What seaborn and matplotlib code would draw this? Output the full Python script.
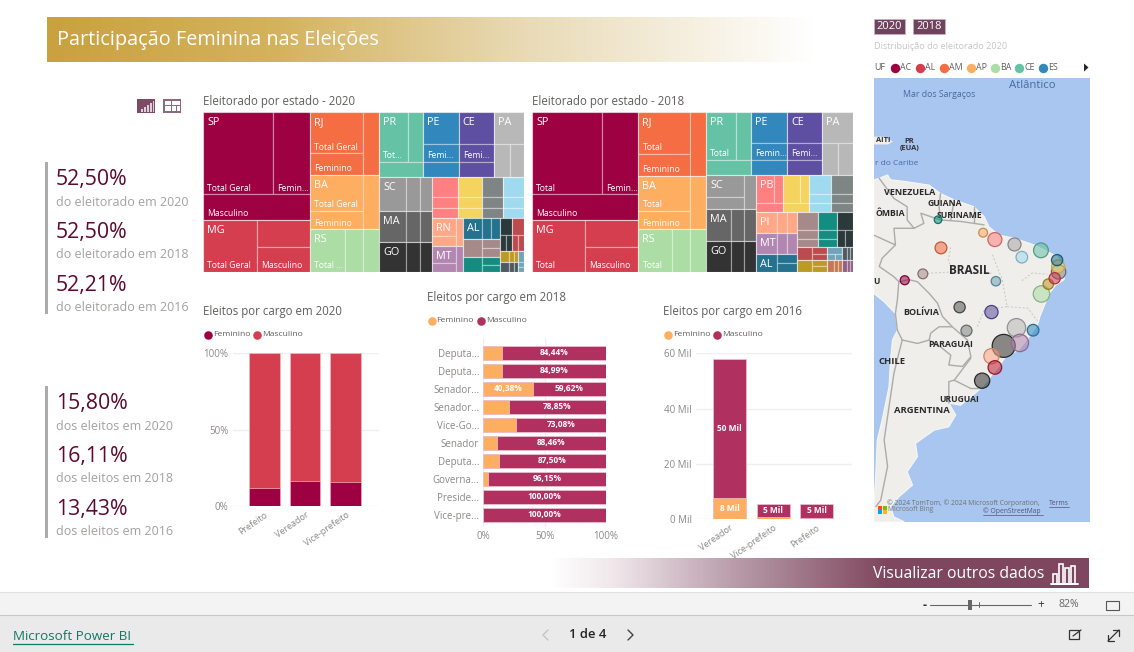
import numpy as np
import seaborn as sns
import matplotlib
matplotlib.use("Agg")
import matplotlib.pyplot as plt
from matplotlib.colors import LinearSegmentedColormap
from matplotlib.patches import Rectangle, Polygon

ufs_2020 = ["SP", "MG", "RJ", "BA", "RS", "PR", "PE", "CE", "PA", "SC", "MA", "GO", "PB", "ES", "AM", "PI", "RN", "MT", "AL", "MS", "SE", "RO", "TO", "AC", "RR", "AP"]
total_2020 = [34.0, 16.46, 12.72, 11.09, 8.64, 8.36, 6.83, 6.64, 5.80, 5.31, 4.93, 4.62, 3.07, 2.91, 2.55, 2.51, 2.50, 2.38, 2.27, 1.94, 1.64, 1.19, 1.13, 0.58, 0.54, 0.35]
fem_2020 = [17.85, 8.64, 6.68, 5.82, 4.54, 4.39, 3.59, 3.49, 3.05, 2.79, 2.59, 2.43, 1.61, 1.53, 1.34, 1.32, 1.31, 1.25, 1.19, 1.02, 0.86, 0.62, 0.59, 0.30, 0.28, 0.18]
masc_2020 = [16.15, 7.82, 6.04, 5.27, 4.10, 3.97, 3.24, 3.15, 2.75, 2.52, 2.34, 2.19, 1.46, 1.38, 1.21, 1.19, 1.19, 1.13, 1.08, 0.92, 0.78, 0.57, 0.54, 0.28, 0.26, 0.17]

ufs_2018 = ["SP", "MG", "RJ", "BA", "RS", "PR", "PE", "CE", "PA", "SC", "MA", "GO", "PB", "ES", "AM", "DF", "PI", "MT", "AL", "RN", "MS", "SE", "RO", "TO", "AC", "AP", "RR", "ZZ"]
total_2018 = [33.56, 16.16, 12.60, 10.61, 8.42, 8.19, 6.60, 6.47, 5.63, 5.04, 4.66, 4.51, 2.93, 2.82, 2.45, 2.41, 2.48, 2.43, 2.19, 2.09, 1.95, 1.61, 1.17, 1.03, 0.59, 0.51, 0.43, 0.38]
fem_2018 = [17.62, 8.48, 6.62, 5.57, 4.42, 4.30, 3.47, 3.40, 2.96, 2.65, 2.45, 2.37, 1.54, 1.48, 1.29, 1.27, 1.30, 1.28, 1.15, 1.10, 1.02, 0.85, 0.61, 0.54, 0.31, 0.27, 0.23, 0.20]
masc_2018 = [15.94, 7.68, 5.98, 5.04, 4.00, 3.89, 3.13, 3.07, 2.67, 2.39, 2.21, 2.14, 1.39, 1.34, 1.16, 1.14, 1.18, 1.15, 1.04, 0.99, 0.93, 0.76, 0.56, 0.49, 0.28, 0.24, 0.20, 0.18]

nomes_2020 = ["SP", "MG", "RJ", "BA", "RS", "PR", "PE", "CE", "PA", "SC", "MA", "GO", "RN", "MT", "AL"]
nomes_2018 = ["SP", "MG", "RJ", "BA", "RS", "PR", "PE", "CE", "PA", "SC", "MA", "GO", "PB", "PI", "MT", "AL"]
rotulos_2020 = {"SP": ("Total Geral", "Femin...", "Masculino"), "MG": ("Total Geral", None, "Masculino"),
                "RJ": ("Total Geral", "Feminino", None), "BA": ("Total Geral", "Feminino", None),
                "RS": ("Total ...", None, None), "PR": ("Tot...", None, None),
                "PE": (None, "Femi...", None), "CE": (None, "Femi...", None)}
rotulos_2018 = {"SP": ("Total", "Femin...", "Masculino"), "MG": ("Total", None, "Masculino"),
                "RJ": ("Total", "Feminino", None), "BA": ("Total", "Feminino", None),
                "RS": ("Total", None, None), "PR": ("Total", None, None),
                "PE": (None, "Femin...", None), "CE": (None, "Femi...", None)}

# eleitos por cargo
cargos_2020 = ["Prefeito", "Vereador", "Vice-prefeito"]
fem_cargo_2020 = [12.1, 16.5, 16.05]
masc_cargo_2020 = [87.9, 83.5, 83.95]

cargos_2018 = ["Deputado Distrital", "Deputado Federal", "Senador 1", "Senador 2", "Vice-Governador", "Senador", "Deputado Estadual", "Governador", "Presidente", "Vice-presidente"]
ticks_2018 = ["Deputa...", "Deputa...", "Senador...", "Senador...", "Vice-Go...", "Senador", "Deputa...", "Governa...", "Preside...", "Vice-pre..."]
fem_cargo_2018 = [15.56, 15.01, 40.38, 21.15, 26.92, 11.54, 12.50, 3.85, 0.0, 0.0]
masc_cargo_2018 = [84.44, 84.99, 59.62, 78.85, 73.08, 88.46, 87.50, 96.15, 100.0, 100.0]

cargos_2016 = ["Vereador", "Vice-prefeito", "Prefeito"]
fem_cargo_2016 = [7.8, 0.84, 0.63]
masc_cargo_2016 = [50.2, 4.7, 4.87]
rotulo_fem_2016 = ["8 Mil", None, None]
rotulo_masc_2016 = ["50 Mil", "5 Mil", "5 Mil"]

kpi_eleitorado = [("52,50%", "do eleitorado em 2020"), ("52,50%", "do eleitorado em 2018"), ("52,21%", "do eleitorado em 2016")]
kpi_eleitos = [("15,80%", "dos eleitos em 2020"), ("16,11%", "dos eleitos em 2018"), ("13,43%", "dos eleitos em 2016")]

# mapa: bolhas por UF
ufs_mapa = ["MG", "SP", "RJ", "PR", "SC", "RS", "ES", "GO", "MS", "MT", "BA", "SE", "PE", "PB", "AL", "RN", "CE", "PI", "MA", "PA", "AP", "RR", "AM", "RO", "AC", "TO"]
lon_mapa = [-44.3, -46.9, -43.6, -49.4, -48.7, -51.3, -40.9, -49.4, -54.5, -55.9, -39.2, -37.8, -35.7, -35.8, -36.5, -36.0, -39.3, -43.2, -44.7, -48.7, -51.1, -60.3, -59.7, -63.4, -67.1, -48.5]
lat_mapa = [-19.4, -23.1, -22.5, -25.2, -27.5, -30.2, -19.9, -16.2, -20.0, -15.2, -12.5, -10.5, -8.0, -6.9, -9.3, -5.6, -3.6, -5.0, -2.4, -1.4, 0.0, 2.65, -3.1, -8.4, -9.7, -9.9]
raio_mapa = [9.2, 11.5, 8.7, 7.6, 6.8, 7.6, 5.8, 6.6, 5.5, 5.6, 8.2, 5.2, 7.2, 6.5, 5.6, 5.6, 7.4, 5.8, 6.5, 7.0, 4.4, 3.8, 5.9, 4.9, 4.5, 4.7]

legenda_mapa = ["AC", "AL", "AM", "AP", "BA", "CE", "ES"]

costa_lon = [-73.4, -72.3, -70.6, -70.0, -66.6, -62.1, -59.8, -57.0, -53.0, -50.9, -49.9, -47.9, -44.8, -40.7, -37.3, -36.0, -34.3, -34.6, -36.3, -37.6, -38.7, -39.5, -40.0, -41.7, -43.8, -46.5, -47.9, -49.6, -51.6, -53.6, -55.7, -58.1, -56.7, -58.1, -61.1, -64.9, -64.5, -66.6, -65.5, -68.3, -70.0, -69.3, -67.2, -73.4, -73.4, -73.0, -72.7, -71.7, -70.3, -70.0, -69.6, -68.6, -69.0, -71.3, -73.4]
costa_lat = [10.8, 11.1, 11.8, 10.8, 10.4, 9.7, 8.0, 6.7, 5.3, 3.3, 1.2, -0.5, -1.1, -2.5, -4.2, -4.9, -7.6, -9.6, -10.7, -12.4, -15.1, -17.1, -18.8, -21.2, -23.9, -25.3, -27.3, -29.4, -31.8, -33.5, -35.2, -34.8, -37.2, -39.6, -40.3, -43.0, -45.7, -48.8, -51.5, -53.9, -55.9, -58.0, -59.0, -59.0, -55.9, -49.1, -42.3, -38.2, -31.4, -26.0, -21.9, -19.9, -16.5, -14.1, -12.4]
ilha_lon = [-73.4, -71.5, -69.5, -70.5, -73.4]
ilha_lat = [19.6, 19.6, 18.6, 18.0, 18.0]
fronteiras = [
    ([-72.3, -69.3, -66.6, -66.6, -65.2], [11.1, 7.0, 5.3, 2.6, 0.9]),
    ([-65.2, -63.2, -63.8, -59.8, -60.1, -59.8], [0.9, 1.9, 3.96, 2.6, 5.3, 8.0]),
    ([-59.8, -55.7, -50.9], [2.6, 2.3, 1.6]),
    ([-57.0, -57.7], [6.7, 2.6]),
    ([-53.0, -53.0], [5.3, 2.0]),
    ([-65.2, -69.3, -69.0, -73.4], [0.9, 0.9, -2.5, -0.5]),
    ([-69.0, -71.7, -72.3, -69.3, -68.3], [-2.5, -5.2, -6.9, -9.0, -10.0]),
    ([-68.3, -68.6, -69.0], [-10.0, -13.7, -16.5]),
    ([-68.3, -66.2, -64.5, -62.1, -60.4, -59.4, -57.4, -60.1, -61.8, -62.1], [-10.0, -9.6, -10.0, -12.4, -14.4, -17.1, -19.2, -19.2, -20.5, -21.9]),
    ([-62.1, -59.8, -57.7, -58.1, -55.3, -53.6, -54.3, -57.4], [-21.9, -23.3, -25.0, -27.0, -27.3, -25.3, -21.9, -19.2]),
    ([-53.6, -57.0, -58.1, -58.1, -58.1], [-25.6, -30.1, -30.4, -33.5, -34.8]),
    ([-57.0, -53.6, -51.6], [-30.1, -31.8, -31.8]),
    ([-67.6, -68.3, -69.3, -70.3, -71.3, -70.6, -72.0, -73.0], [-21.9, -24.6, -28.7, -35.5, -42.3, -47.7, -54.6, -55.9]),
    ([-67.6, -64.5, -62.1], [-21.9, -22.6, -21.9]),
    ([-67.6, -68.6, -69.0], [-21.9, -19.9, -16.5]),
]
divisas = [
    ([-62.5, -57.4, -49.2], [-8.3, -8.0, -8.3]),
    ([-49.2, -47.2, -46.2, -50.9, -52.3], [-4.5, -9.6, -15.1, -15.8, -19.2]),
    ([-57.7, -58.2, -57.4], [-3.0, -5.5, -8.0]),
    ([-46.2, -42.0, -40.0], [-15.1, -15.4, -18.0]),
    ([-43.2, -41.0, -38.0], [-9.8, -8.2, -8.5]),
]
nomes_mapa = [
    ("Mar dos Sargaços", -60.1, 28.3, "#4A6A9E", 6.3, "normal"), ("Atlântico", -41.0, 30.1, "#4A6A9E", 8.2, "normal"),
    ("PR\n(EUA)", -66.2, 17.9, "#333333", 5.4, "bold"), ("AITI", -71.5, 18.9, "#333333", 5.4, "bold"),
    ("r do Caribe", -68.7, 14.1, "#4A6A9E", 6, "normal"), ("VENEZUELA", -66.0, 8.3, "#2A2A2A", 6.5, "bold"),
    ("GUIANA", -59.0, 5.9, "#2A2A2A", 6.2, "bold"), ("SURINAME", -56.0, 3.5, "#2A2A2A", 6.2, "bold"),
    ("ÔMBIA", -70.0, 3.9, "#2A2A2A", 6.2, "bold"), ("BRASIL", -54.0, -7.7, "#2A2A2A", 8.5, "bold"),
    ("U", -72.8, -10.0, "#2A2A2A", 6, "bold"), ("BOLÍVIA", -63.7, -16.2, "#2A2A2A", 6.5, "bold"),
    ("PARAGUAI", -57.7, -22.9, "#2A2A2A", 6.4, "bold"), ("CHILE", -69.6, -26.3, "#2A2A2A", 6.8, "bold"),
    ("URUGUAI", -56.0, -34.0, "#2A2A2A", 6.1, "bold"), ("ARGENTINA", -63.5, -36.3, "#2A2A2A", 6.8, "bold"),
]

# arranjo dos blocos: h = lado a lado, v = empilhado
arranjo_2020 = ("h", ("v", "SP", "MG"), ("v", "RJ", "BA", "RS"),
                ("v", ("h", "PR", "PE", "CE", "PA"),
                 ("h", ("v", "SC", "MA", "GO"),
                  ("v", ("h", "PB", "ES", "AM", "PI"),
                   ("h", ("v", "RN", "MT"), ("v", "AL", "MS", "SE"),
                    ("v", ("h", "RO", "TO"), ("h", ("v", "AC", "RR"), "AP")))))))
arranjo_2018 = ("h", ("v", "SP", "MG"), ("v", "RJ", "BA", "RS"),
                ("v", ("h", "PR", "PE", "CE", "PA"),
                 ("h", ("v", "SC", "MA", "GO"),
                  ("v", ("h", "PB", "ES", "AM", "DF"),
                   ("h", ("v", "PI", "MT", "AL"),
                    ("v", ("h", "RN", "MS", "SE"),
                     ("h", ("v", "RO", "TO"), ("v", "AC", "AP"), ("v", "RR", "ZZ"))))))))

TOPO = ("v", ("h", 0, 1), 2)
ESQ = ("h", ("v", 0, 1), 2)
LADO = ("h", 0, ("v", 1, 2))
COLS = ("h", 0, 1, 2)
PILHA = ("v", 0, 1, 2)
BAIXO = ("v", 0, ("h", 1, 2))
filhos_2020 = {"SP": TOPO, "PR": TOPO, "MG": LADO, "MS": LADO, "SE": LADO, "RJ": ESQ, "BA": ESQ, "RN": ESQ, "MT": ESQ,
               "RS": COLS, "SC": COLS, "MA": COLS, "GO": COLS, "AL": COLS, "AC": COLS, "RR": COLS,
               "PA": BAIXO, "RO": BAIXO, "TO": BAIXO}
filhos_2018 = {"SP": TOPO, "PR": TOPO, "PB": TOPO, "ES": TOPO, "MG": LADO, "AL": LADO, "RO": LADO, "TO": LADO,
               "RJ": ESQ, "BA": ESQ, "SC": ESQ, "RS": COLS, "MA": COLS, "GO": COLS, "PI": COLS, "MT": COLS, "AP": COLS,
               "PA": BAIXO, "SE": BAIXO, "AC": BAIXO, "RR": COLS, "ZZ": COLS}

paleta_2020 = ["#9E0142", "#D53E4F", "#F46D43", "#FDAE61", "#ABDDA4", "#66C2A5", "#3288BD", "#5E4FA2", "#B8B8B8", "#999999", "#666666", "#333333",
               "#FF8080", "#F4D35E", "#7F8585", "#A0DAEF", "#FFA786", "#B286B0", "#24728E", "#A68A8A", "#138D80", "#2B393B", "#BC4B4F", "#BC9B25", "#4E5A60", "#6FA4BA"]
paleta_2018 = ["#9E0142", "#D53E4F", "#F46D43", "#FDAE61", "#ABDDA4", "#66C2A5", "#3288BD", "#5E4FA2", "#B8B8B8", "#999999", "#666666", "#333333",
               "#FF8080", "#F4D35E", "#A0DAEF", "#7F8585", "#FFA786", "#B286B0", "#24728E", "#A68A8A", "#138D80", "#2B393B", "#BC4B4F", "#BC9B25", "#6FA4BA", "#C47A50", "#4E5A60", "#8F5F85"]
cores_mapa = {"MG": "#B8B8B8", "SP": "#333333", "RJ": "#B286B0", "PR": "#FFA786", "SC": "#BC1F35", "RS": "#333333", "ES": "#3288BD", "GO": "#5E4FA2",
              "MS": "#7F8585", "MT": "#555555", "BA": "#ABDDA4", "SE": "#BC9B25", "PE": "#7F8585", "PB": "#F4D35E", "AL": "#D53E4F", "RN": "#24728E",
              "CE": "#66C2A5", "PI": "#A0DAEF", "MA": "#A8A8A8", "PA": "#FF8080", "AP": "#FDAE61", "RR": "#138D80", "AM": "#F46D43", "RO": "#A68A8A",
              "AC": "#9E0142", "TO": "#6FA4BA"}

sns.set_theme(style="white")
plt.rcParams["font.family"] = ["Open Sans", "DejaVu Sans"]

W, H = 1134, 652
fig = plt.figure(figsize=(W / 100, H / 100), dpi=100, facecolor="white")


def caixa(x0, y0, x1, y1, zorder=1):
    ax = fig.add_axes([x0 / W, 1 - y1 / H, (x1 - x0) / W, (y1 - y0) / H], zorder=zorder)
    return ax


def peso(no, valores):
    if isinstance(no, tuple):
        return sum(peso(f, valores) for f in no[1:])
    return valores[no]


def fatiar(no, valores, x, y, w, h, saida):
    if not isinstance(no, tuple):
        saida[no] = (x, y, w, h)
        return
    soma = peso(no, valores)
    for f in no[1:]:
        p = peso(f, valores) / soma
        if no[0] == "h":
            fatiar(f, valores, x, y, w * p, h, saida)
            x += w * p
        else:
            fatiar(f, valores, x, y, w, h * p, saida)
            y += h * p


def treemap(ax, ufs, total, fem, masc, arranjo, filhos, paleta, nomes, rotulos):
    tabela = {u: (t, f, m) for u, t, f, m in zip(ufs, total, fem, masc)}
    cores = dict(zip(ufs, paleta))
    pesos = {u: sum(v) for u, v in tabela.items()}
    blocos = {}
    fatiar(arranjo, pesos, 0, 0, 1, 1, blocos)
    ax.set_xlim(0, 1)
    ax.set_ylim(1, 0)
    ax.axis("off")
    largura, altura = ax.get_window_extent().width, ax.get_window_extent().height
    dx, dy = 4 / largura, 1.5 / altura
    for u, (x, y, w, h) in blocos.items():
        partes = {}
        fatiar(filhos.get(u, PILHA), tabela[u], x, y, w, h, partes)
        for i, (px, py, pw, ph) in partes.items():
            ax.add_patch(Rectangle((px, py), pw, ph, facecolor=cores[u], edgecolor=(1, 1, 1, 0.3), linewidth=0.9))
            txt = rotulos.get(u, (None, None, None))[i]
            if txt:
                ax.text(px + dx, py + ph - dy, txt, color="white", fontsize=6.2, va="bottom", ha="left", fontweight="medium")
        ax.add_patch(Rectangle((x, y), w, h, fill=False, edgecolor=(1, 1, 1, 0.35), linewidth=0.7))
        if u in nomes:
            ax.text(x + dx, y + 5 / altura, u, color="white", fontsize=7.8, va="top", ha="left")


ax = caixa(203, 112, 524, 272)
treemap(ax, ufs_2020, total_2020, fem_2020, masc_2020, arranjo_2020, filhos_2020, paleta_2020, nomes_2020, rotulos_2020)
ax = caixa(532, 112, 853, 272)
treemap(ax, ufs_2018, total_2018, fem_2018, masc_2018, arranjo_2018, filhos_2018, paleta_2018, nomes_2018, rotulos_2018)

COR_TICK = "#8A8886"
COR_GRADE = "#EFEFEF"


def limpar(ax, eixo):
    sns.despine(ax=ax, left=True, bottom=True)
    ax.set_xlabel("")
    ax.set_ylabel("")
    ax.set_facecolor("none")
    ax.grid(True, axis=eixo, color=COR_GRADE, linewidth=1)
    ax.set_axisbelow(True)
    ax.tick_params(length=0, labelsize=7, colors=COR_TICK, pad=3)


# eleitos 2020
ax = caixa(232.7, 352.7, 379, 506.3)
soma = np.array(fem_cargo_2020) + np.array(masc_cargo_2020)
sns.barplot(x=cargos_2020, y=soma, color="#D53E4F", saturation=1, width=0.754, ax=ax, edgecolor="#F2B8C0", linewidth=0.5)
sns.barplot(x=cargos_2020, y=fem_cargo_2020, color="#9E0142", saturation=1, width=0.754, ax=ax, edgecolor="#F2B8C0", linewidth=0.5)
ax.set_xlim(-0.78, 2.82)
ax.set_ylim(0, 100)
ax.set_yticks([0, 50, 100], ["0%", "50%", "100%"])
limpar(ax, "y")
plt.setp(ax.get_xticklabels(), rotation=35, ha="right", rotation_mode="anchor", fontsize=6.5)

# eleitos 2018
ax = caixa(483.3, 338, 605.7, 527)
soma = np.array(fem_cargo_2018) + np.array(masc_cargo_2018)
sns.barplot(y=cargos_2018, x=soma, color="#B03060", saturation=1, width=0.78, ax=ax, orient="y", edgecolor="#EBC6D2", linewidth=0.5)
sns.barplot(y=cargos_2018, x=fem_cargo_2018, color="#FDAE61", saturation=1, width=0.78, ax=ax, orient="y", edgecolor="#EBC6D2", linewidth=0.5)
ax.set_ylim(9.67, -0.82)
ax.set_xlim(0, 100)
ax.set_xticks([0, 50, 100], ["0%", "50%", "100%"])
ax.set_yticks(range(len(ticks_2018)), ticks_2018)
limpar(ax, "x")
for i, (f, m) in enumerate(zip(fem_cargo_2018, masc_cargo_2018)):
    ax.text(f + m / 2, i, f"{m:.2f}%".replace(".", ","), color="white", fontsize=6, fontweight="bold", ha="center", va="center")
    if f > 30:
        ax.text(f / 2, i, f"{f:.2f}%".replace(".", ","), color="white", fontsize=6, fontweight="bold", ha="center", va="center")

# eleitos 2016
ax = caixa(696, 353.3, 852, 519.3)
soma = np.array(fem_cargo_2016) + np.array(masc_cargo_2016)
sns.barplot(x=cargos_2016, y=soma, color="#B03060", saturation=1, width=0.76, ax=ax, edgecolor="#EBC6D2", linewidth=0.5)
sns.barplot(x=cargos_2016, y=fem_cargo_2016, color="#FDAE61", saturation=1, width=0.76, ax=ax, edgecolor="#EBC6D2", linewidth=0.5)
ax.set_xlim(-0.78, 2.82)
ax.set_ylim(0, 60)
ax.set_yticks([0, 20, 40, 60], ["0 Mil", "20 Mil", "40 Mil", "60 Mil"])
limpar(ax, "y")
plt.setp(ax.get_xticklabels(), rotation=35, ha="right", rotation_mode="anchor", fontsize=6.5)
for i, (f, m) in enumerate(zip(fem_cargo_2016, masc_cargo_2016)):
    if rotulo_masc_2016[i]:
        ax.text(i, f + m / 2, rotulo_masc_2016[i], color="white", fontsize=6, fontweight="bold", ha="center", va="center")
    if rotulo_fem_2016[i]:
        ax.text(i, f / 2, rotulo_fem_2016[i], color="white", fontsize=6, fontweight="bold", ha="center", va="center")

# mapa
ax = caixa(874, 78, 1090, 522)
ax.set_xlim(-73.37, -29.29)
ax.set_ylim(-59.04, 31.57)
ax.set_facecolor("#A8C6F0")
ax.add_patch(Polygon(np.column_stack([costa_lon, costa_lat]), facecolor="#EFEEEA", edgecolor="#F7F7F5", linewidth=0.8))
ax.add_patch(Polygon(np.column_stack([ilha_lon, ilha_lat]), facecolor="#EFEEEA", edgecolor="none"))
for lons, lats in divisas:
    ax.plot(lons, lats, color="#C6C6C2", linewidth=0.7, linestyle=(0, (2, 2)))
for lons, lats in fronteiras:
    ax.plot(lons, lats, color="#ABABA7", linewidth=1.0)
sns.scatterplot(x=lon_mapa, y=lat_mapa, hue=ufs_mapa, palette=cores_mapa, s=[(2 * r * 0.72) ** 2 for r in raio_mapa], legend=False, ax=ax, zorder=5, linewidth=1)
bolhas = ax.collections[-1]
faces = bolhas.get_facecolors().copy()
bolhas.set_edgecolors(faces * np.array([0.8, 0.8, 0.8, 1]))
faces[:, 3] = 0.55
bolhas.set_facecolors(faces)
bolhas.set_linewidth(0.9)
for nome, lon, lat, cor, tam, peso_fonte in nomes_mapa:
    ax.text(lon, lat, nome, color=cor, fontsize=tam, fontweight=peso_fonte, ha="center", va="center", linespacing=0.95, zorder=4)
ax.set_xticks([])
ax.set_yticks([])
ax.set_xlabel("")
ax.set_ylabel("")
sns.despine(ax=ax, left=True, bottom=True)

# tudo o que e moldura de relatorio: camada em pixels
tela = caixa(0, 0, W, H, zorder=10)
tela.patch.set_alpha(0)
tela.axis("off")


def gradiente(x0, y0, x1, y1, cores):
    cmap = LinearSegmentedColormap.from_list("g", cores)
    tela.imshow(np.linspace(0, 1, 400).reshape(1, -1), cmap=cmap, extent=(x0, x1, y1, y0), aspect="auto", zorder=0)


gradiente(47, 17, 815, 62, [(0, "#C9A13F"), (0.3, "#D4B35E"), (0.62, "#E9DAB5"), (1, "#FFFFFF")])
gradiente(550, 558, 1089, 588, [(0, "#FFFFFF"), (0.12, "#EFE6EA"), (0.33, "#BBA0AD"), (0.62, "#80485F"), (1, "#7E4660")])
tela.set_xlim(0, W)
tela.set_ylim(H, 0)

tela.text(57, 40.5, "Participação Feminina nas Eleições", color="white", fontsize=14.3, va="center", ha="left", zorder=3)
tela.text(873, 574.5, "Visualizar outros dados", color="white", fontsize=11.3, va="center", ha="left", zorder=3)

# icone de barras do botao
tela.plot([1051, 1078], [584, 584], color="white", linewidth=1.4, zorder=3)
for xb, yb in zip([1053, 1059, 1065, 1071], [574, 564, 568, 566]):
    tela.add_patch(Rectangle((xb, yb), 3.6, 584 - yb, fill=False, edgecolor="white", linewidth=1.2, zorder=3))

# botoes de icone
for xb, cor in zip([137, 163], ["#7B4B68", "#8F6680"]):
    tela.add_patch(Rectangle((xb, 99), 18, 13.5, facecolor=cor, edgecolor="none"))
for xb, yb in zip([141, 144, 147, 150, 152.5], [109, 107, 105, 103, 101]):
    tela.add_patch(Rectangle((xb, yb), 1.5, 112 - yb - 0.5, facecolor="#DDD0D8", edgecolor="none"))
for xb, yb, lb, ab in zip([165, 172, 165, 172, 177], [101, 101, 106, 106, 106], [6, 8, 6, 4, 3], [4, 4, 5, 5, 5]):
    tela.add_patch(Rectangle((xb, yb), lb, ab, facecolor="white", edgecolor="none"))

# indicadores da esquerda
for (y0, y1, itens) in [(162, 314, kpi_eleitorado), (386, 538, kpi_eleitos)]:
    tela.add_patch(Rectangle((45, y0), 2.5, y1 - y0, facecolor="#ABABAB", edgecolor="none"))
    for k, (valor, legenda) in enumerate(itens):
        yv = y0 + 18 + k * 52.5
        tela.text(56, yv, valor, color="#5C0A2E", fontsize=15.3, va="center", ha="left")
        tela.text(56, yv + 22.5, legenda, color="#A3A1A0", fontsize=9, va="center", ha="left")

# titulos
COR_TIT = "#605E5C"
for x, y, t in [(203, 101, "Eleitorado por estado - 2020"), (532, 101, "Eleitorado por estado - 2018"),
                (203, 311.5, "Eleitos por cargo em 2020"), (427, 297.5, "Eleitos por cargo em 2018"), (663, 311.5, "Eleitos por cargo em 2016")]:
    tela.text(x, y, t, color=COR_TIT, fontsize=8.3, va="center", ha="left")

# legendas
for x0, x1, y, c0, c1 in [(208, 257, 335, "#9E0142", "#D53E4F"), (431.5, 481, 321, "#FDAE61", "#B03060"), (667.7, 717, 335, "#FDAE61", "#B03060")]:
    for xc, cor, nome in [(x0, c0, "Feminino"), (x1, c1, "Masculino")]:
        tela.scatter([xc], [y], s=38, color=cor, linewidth=0, zorder=3)
        tela.text(xc + 5, y, nome, color=COR_TIT, fontsize=6.1, va="center", ha="left")

# botoes de ano e legenda do mapa
for x0, x1, t in [(874, 905, "2020"), (913, 945, "2018")]:
    tela.add_patch(Rectangle((x0, 19), x1 - x0, 14.5, facecolor="#6F435E", edgecolor="#C9B6C2", linewidth=0.5))
    tela.text((x0 + x1) / 2, 26.5, t, color="white", fontsize=8, ha="center", va="center")
tela.text(874, 46.5, "Distribuição do eleitorado 2020", color="#C8C6C4", fontsize=6.6, va="center", ha="left")
tela.text(874, 67.5, "UF", color=COR_TIT, fontsize=6.4, va="center", ha="left")
for xc, uf, cor in zip([895, 919.7, 943.7, 970.7, 994.7, 1019, 1042.7], legenda_mapa, paleta_2020):
    tela.scatter([xc], [67.5], s=46, color=cor, linewidth=0, zorder=3)
    tela.text(xc + 5.5, 67.5, uf, color=COR_TIT, fontsize=6.4, va="center", ha="left")
tela.add_patch(Polygon([(1084, 63.5), (1088.5, 67.5), (1084, 71.5)], facecolor="#252423", edgecolor="none"))

# creditos do mapa
tela.text(887, 503.5, "© 2024 TomTom, © 2024 Microsoft Corporation,", color="#6F6F6F", fontsize=4.9, va="center", ha="left", zorder=4)
tela.text(1049, 503.5, "Terms", color="#555577", fontsize=4.9, va="center", ha="left", zorder=4)
tela.plot([1049, 1069], [507, 507], color="#555577", linewidth=0.5, zorder=4)
tela.text(983, 511.5, "© OpenStreetMap", color="#555577", fontsize=4.9, va="center", ha="left", zorder=4)
tela.plot([983, 1043], [515, 515], color="#555577", linewidth=0.5, zorder=4)
tela.text(888, 509.5, "Microsoft Bing", color="#777777", fontsize=4.9, va="center", ha="left", zorder=4)
for xb, yb, cor in zip([878, 882.5, 878, 882.5], [505.5, 505.5, 510, 510], ["#F25022", "#7FBA00", "#00A4EF", "#FFB900"]):
    tela.add_patch(Rectangle((xb, yb), 4, 4, facecolor=cor, edgecolor="none", zorder=4))

# rodape
tela.add_patch(Rectangle((0, 592), W, 23, facecolor="#F3F3F3", edgecolor="none"))
tela.add_patch(Rectangle((0, 615), W, 37, facecolor="#EAEAEA", edgecolor="none"))
tela.plot([0, W], [592, 592], color="#E1E1E1", linewidth=0.8)
tela.plot([0, W], [615, 615], color="#C8C8C8", linewidth=0.8)
tela.text(13, 636, "Microsoft Power BI", color="#117865", fontsize=9.6, fontweight="medium", va="center", ha="left")
tela.plot([13, 133], [643.5, 643.5], color="#117865", linewidth=0.9)
tela.text(588, 635, "1 de 4", color="#252423", fontsize=9.4, fontweight="semibold", va="center", ha="center")
tela.plot([548, 543, 548], [630, 635, 640], color="#C4C4C4", linewidth=1)
tela.plot([628, 633, 628], [630, 635, 640], color="#444444", linewidth=1)
tela.text(925, 605, "-", color="#333333", fontsize=9, fontweight="bold", va="center", ha="center")
tela.plot([930, 1031], [604.5, 604.5], color="#666666", linewidth=0.8)
tela.add_patch(Rectangle((968, 600), 4, 10, facecolor="#666666", edgecolor="none"))
tela.plot([979, 979], [602, 607], color="#666666", linewidth=0.7)
tela.text(1041, 604.5, "+", color="#333333", fontsize=8.5, va="center", ha="center")
tela.text(1069, 604.5, "82%", color="#666666", fontsize=7.6, va="center", ha="center")
tela.add_patch(Rectangle((1106, 600.5), 13, 9, fill=False, edgecolor="#555555", linewidth=0.8))
tela.add_patch(Rectangle((1069, 630), 10, 9, fill=False, edgecolor="#333333", linewidth=0.9))
tela.plot([1073, 1081], [636, 630], color="#333333", linewidth=0.9)
tela.plot([1108, 1119], [641, 630], color="#333333", linewidth=0.9)
tela.plot([1113, 1119, 1119], [630, 630, 636], color="#333333", linewidth=0.9)
tela.plot([1108, 1108, 1114], [635, 641, 641], color="#333333", linewidth=0.9)

fig.savefig("out.png", dpi=100)
